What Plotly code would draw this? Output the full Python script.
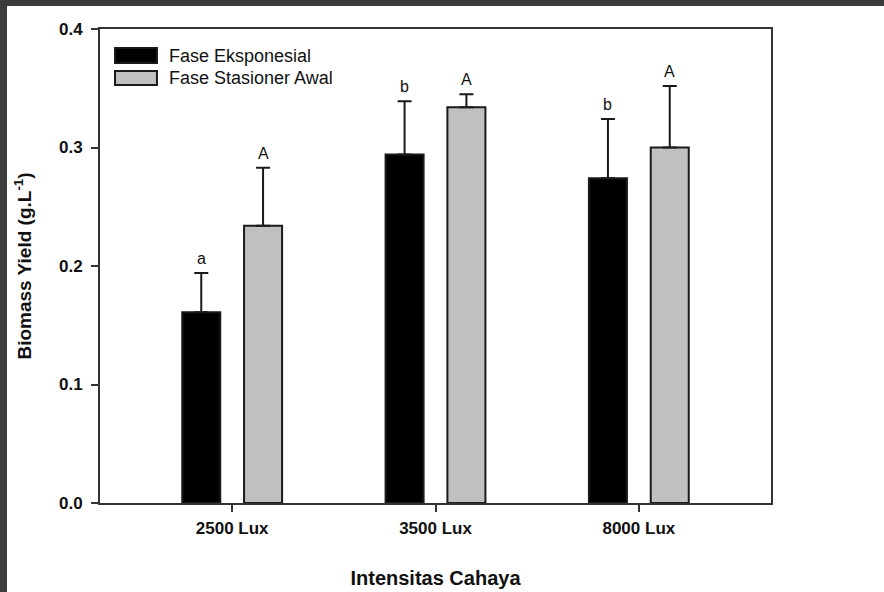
import plotly.graph_objects as go

# Light intensity treatments and biomass yields (g/L) per growth phase
categories = ["2500 Lux", "3500 Lux", "8000 Lux"]
exp_phase = [0.161, 0.294, 0.274]
exp_err = [0.033, 0.045, 0.050]
exp_letters = ["a", "b", "b"]
stat_phase = [0.234, 0.334, 0.300]
stat_err = [0.049, 0.011, 0.052]
stat_letters = ["A", "A", "A"]
series_names = ["Fase Eksponesial", "Fase Stasioner Awal"]
y_ticks = [0.0, 0.1, 0.2, 0.3, 0.4]

FONT = "Arial, Liberation Sans, sans-serif"
INK = "#111111"
BAR_W = 0.187
OFF_LEFT = -0.2455
OFF_RIGHT = 0.0585

xpos = list(range(len(categories)))

fig = go.Figure()

def add_series(vals, errs, color, offset, name):
    fig.add_trace(go.Bar(
        x=xpos, y=vals, name=name, width=BAR_W, offset=offset,
        marker=dict(color=color, line=dict(color="#1a1a1a", width=2)),
        error_y=dict(type="data", array=errs, arrayminus=[0] * len(errs),
                     symmetric=False, color="#1a1a1a", thickness=2, width=7),
        showlegend=False,
    ))

add_series(exp_phase, exp_err, "#000000", OFF_LEFT, series_names[0])
add_series(stat_phase, stat_err, "#c0c0c0", OFF_RIGHT, series_names[1])
fig.update_layout(barmode="overlay")

# significance letters above the error caps
annotations = []
for i in xpos:
    for vals, errs, letters, off in ((exp_phase, exp_err, exp_letters, OFF_LEFT),
                                     (stat_phase, stat_err, stat_letters, OFF_RIGHT)):
        annotations.append(dict(
            x=i + off + BAR_W / 2, y=vals[i] + errs[i], xref="x", yref="y",
            text=letters[i], showarrow=False, yanchor="bottom", yshift=4,
            font=dict(family=FONT, size=16, color=INK)))

# legend drawn as wide swatches in the upper-left corner of the plot area
legend_rows = [("#000000", 0.9283, 0.9599, 0.944),
               ("#c0c0c0", 0.8819, 0.9114, 0.8966)]
shapes = []
for (color, y0, y1, yc), name in zip(legend_rows, series_names):
    shapes.append(dict(type="rect", xref="paper", yref="paper",
                       x0=0.0224, x1=0.0849, y0=y0, y1=y1,
                       fillcolor=color, line=dict(color="#1a1a1a", width=2)))
    annotations.append(dict(x=0.1, y=yc, xref="paper", yref="paper",
                            text=name, showarrow=False, xanchor="left",
                            yanchor="middle",
                            font=dict(family=FONT, size=18, color=INK)))

# dark page edge along the top and left
shapes.append(dict(type="rect", xref="paper", yref="paper", x0=-0.2, x1=1.2,
                   y0=1.0485, y1=1.08, fillcolor="#3c3c3c", line=dict(width=0),
                   layer="above"))
shapes.append(dict(type="rect", xref="paper", yref="paper", x0=-0.2, x1=-0.1386,
                   y0=-0.3, y1=1.08, fillcolor="#3c3c3c", line=dict(width=0),
                   layer="above"))

fig.update_layout(
    width=884, height=592,
    margin=dict(l=100, r=113, t=29, b=89),
    paper_bgcolor="white", plot_bgcolor="white",
    shapes=shapes, annotations=annotations,
    xaxis=dict(
        range=[-0.65, 2.65], tickvals=xpos, ticktext=categories,
        ticks="outside", ticklen=7, tickwidth=2, tickcolor="#333333",
        ticklabelstandoff=2, automargin=False,
        showline=True, linecolor="#333333", linewidth=2, mirror=True,
        showgrid=False, zeroline=False,
        tickfont=dict(family=FONT, size=17, color=INK, weight="bold"),
        title=dict(text="Intensitas Cahaya", standoff=34,
                   font=dict(family=FONT, size=20, color=INK, weight="bold")),
    ),
    yaxis=dict(
        range=[0, 0.4], tickvals=y_ticks, tickformat=".1f",
        ticks="outside", ticklen=7, tickwidth=2, tickcolor="#333333",
        ticklabelstandoff=5, automargin=False,
        showline=True, linecolor="#333333", linewidth=2, mirror=True,
        showgrid=False, zeroline=False,
        tickfont=dict(family=FONT, size=17, color=INK, weight="bold"),
        title=dict(text="Biomass Yield (g.L<sup>-1</sup>)", standoff=22,
                   font=dict(family=FONT, size=19, color=INK, weight="bold")),
    ),
)

fig.write_html("out.html")
